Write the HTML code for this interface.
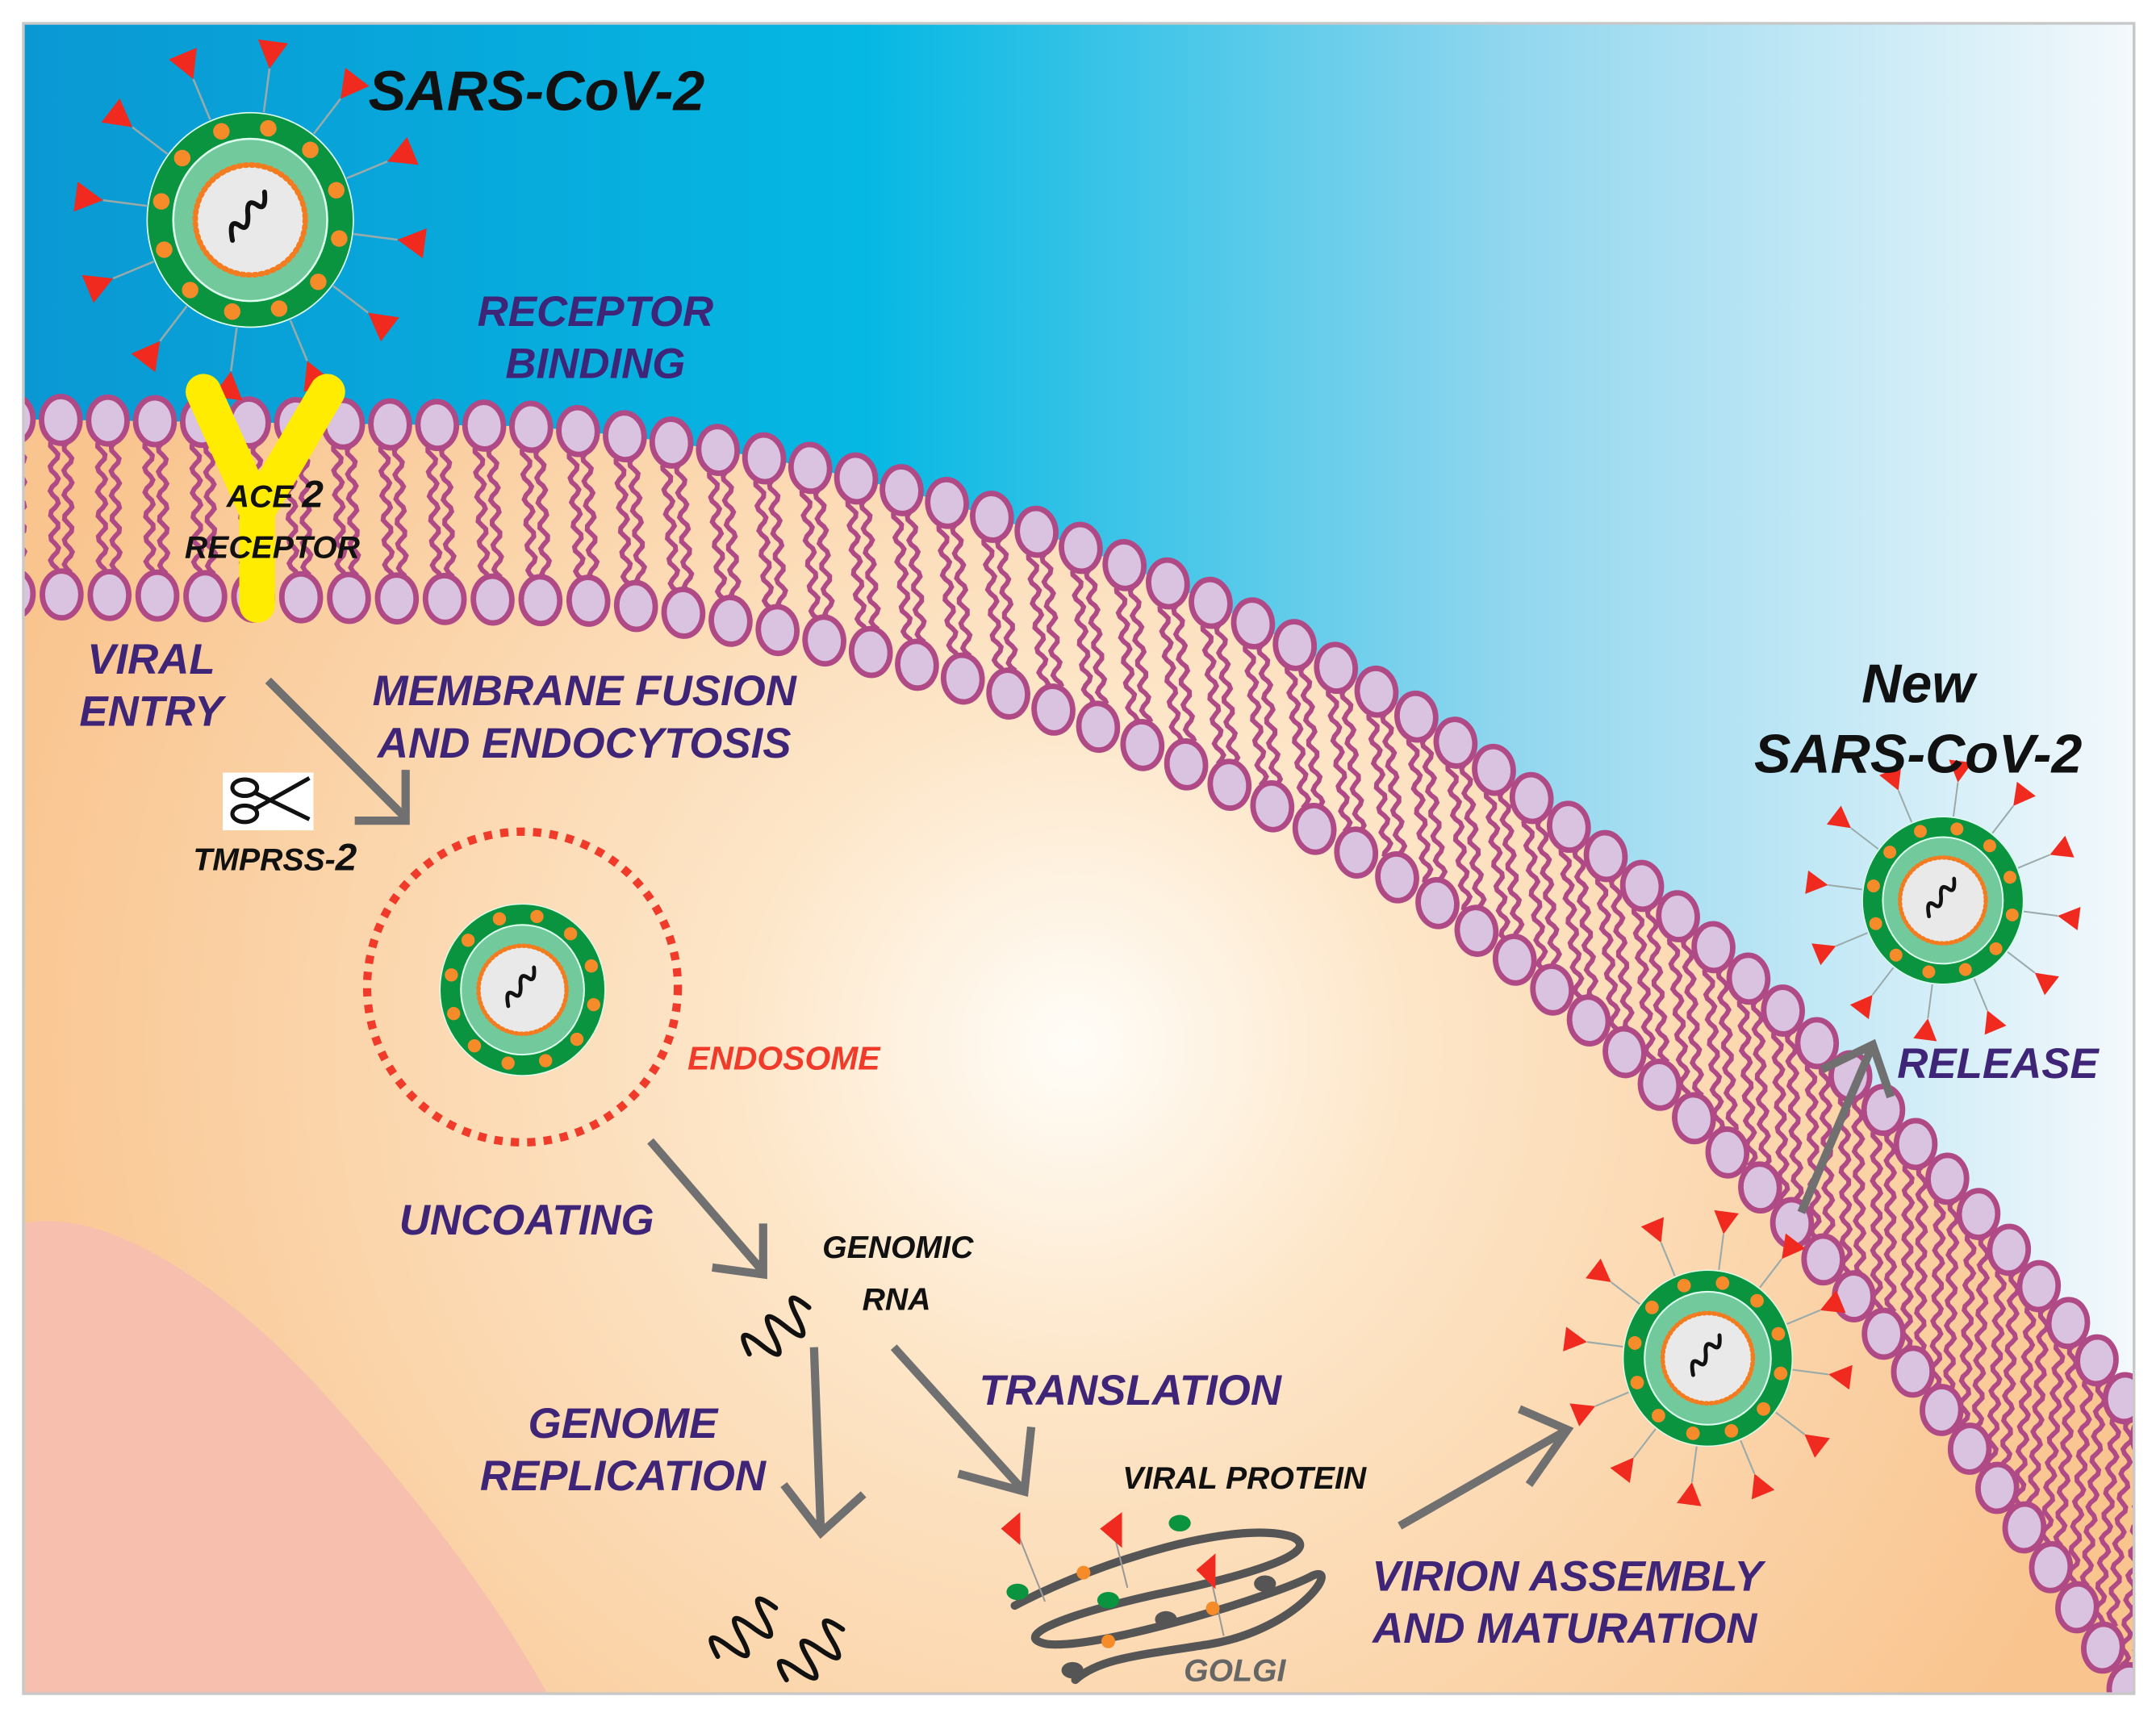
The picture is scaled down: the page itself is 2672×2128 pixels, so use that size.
<!DOCTYPE html>
<html><head><meta charset="utf-8">
<style>
html,body{margin:0;padding:0;background:#fff;}
svg{display:block;}
text{font-family:"Liberation Sans",sans-serif;font-weight:bold;font-style:italic;}
.p{fill:#3f2577;font-size:31px;}
.k{fill:#111;font-size:23px;}
</style></head>
<body>
<svg id="s" width="2672" height="2128" viewBox="0 0 1568 1249" preserveAspectRatio="none" xmlns="http://www.w3.org/2000/svg">
<defs>
<radialGradient id="cyto" cx="780" cy="760" r="820" gradientUnits="userSpaceOnUse">
<stop offset="0" stop-color="#fffdf8"/><stop offset="0.3" stop-color="#fde6c8"/><stop offset="1" stop-color="#f9c48e"/>
</radialGradient>
<linearGradient id="sky" x1="17" y1="0" x2="1552" y2="0" gradientUnits="userSpaceOnUse">
<stop offset="0" stop-color="#0a98d3"/><stop offset="0.4" stop-color="#05b8e3"/><stop offset="0.7" stop-color="#8fd6ee"/><stop offset="1" stop-color="#f4f9fc"/>
</linearGradient>
<clipPath id="fr"><rect x="17" y="17" width="1535" height="1215"/></clipPath>
<g id="virus">
<ellipse cx="0" cy="0" rx="75" ry="78" fill="#0a9440" stroke="#dfe" stroke-width="1"/>
<ellipse cx="0" cy="0" rx="56" ry="59" fill="#71c99c" stroke="#dfe" stroke-width="1.5"/>
<circle cx="0" cy="0" r="40" fill="#e9e9e9"/>
<circle cx="0" cy="0" r="40" fill="none" stroke="#f47c20" stroke-width="4" stroke-dasharray="1.5 3" stroke-linecap="round"/>
<g fill="#f68b2a" id="dots"></g>
<path d="M-18 8 q4 -16 9 -8 q4 8 9 -4 q4 -12 9 -4 q4 8 9 -6" fill="none" stroke="#111" stroke-width="3.5" stroke-linecap="round" transform="rotate(-25)"/>
</g>
<path id="sq" d="M0 0 q5 -26 11 0 q6 26 11 0 q5 -26 11 0 q6 26 11 0 q5 -26 11 0" fill="none" stroke="#111" stroke-width="3.5" stroke-linecap="round"/>
</defs>
<rect x="0" y="0" width="1568" height="1249" fill="#fff"/>
<g clip-path="url(#fr)">
<rect x="17" y="17" width="1535" height="1215" fill="url(#cyto)"/>
<path d="M17 890 C 70 878, 160 925, 250 1030 C 330 1120, 375 1190, 398 1232 L17 1232 Z" fill="#f6bfae"/>
<path id="skyp" d="M10 305 L380 310 C 650 330, 900 420, 1100 570 C 1300 720, 1450 880, 1565 1045 L1565 10 L10 10 Z" fill="url(#sky)"/>
<g id="mem"></g>
</g>
<rect x="17" y="17" width="1535" height="1215" fill="none" stroke="#c8c8c8" stroke-width="2"/>
<path id="O" d="M10 305 L380 310 C 650 330, 900 420, 1100 570 C 1300 720, 1450 880, 1565 1045" fill="none" stroke="none"/>
<path id="I" d="M10 432 L430 437 C 650 460, 870 540, 1050 660 C 1250 800, 1400 990, 1548 1228" fill="none" stroke="none"/>

<g transform="translate(182,160)"><use href="#virus"/><g id="sp1"></g></g>
<g transform="translate(380,720) scale(0.8)"><use href="#virus"/></g>
<circle cx="380" cy="718" r="113" fill="none" stroke="#f03a2a" stroke-width="6" stroke-dasharray="6 6"/>
<g transform="translate(1413,655) scale(0.78)"><use href="#virus"/><g id="sp2"></g></g>
<g transform="translate(1242,988) scale(0.82)"><use href="#virus"/><g id="sp3"></g></g>

<g stroke="#ffec00" stroke-width="26" stroke-linecap="round" fill="none">
<line x1="148" y1="285" x2="187" y2="372"/><line x1="238" y1="285" x2="187" y2="372"/><line x1="187" y1="372" x2="187" y2="440"/>
</g>

<g stroke="#707070" stroke-width="6" fill="none">
<path d="M195 495 L295 595 M258 597 L295 597 L295 560"/>
<path d="M473 830 L555 925 M518 922 L555 927 L555 890"/>
<path d="M592 980 L597 1115 M570 1080 L597 1115 L628 1087"/>
<path d="M650 980 L745 1085 M697 1072 L745 1085 L750 1038"/>
<path d="M1018 1110 L1140 1040 M1105 1025 L1140 1040 L1112 1080"/>
<path d="M1310 882 L1362 760 M1325 778 L1362 760 L1375 798"/>
</g>

<use href="#sq" transform="translate(545,985) rotate(-38)"/>
<use href="#sq" transform="translate(522,1205) rotate(-40)"/>
<use href="#sq" transform="translate(572,1222) rotate(-42)"/>

<g fill="none" stroke="#555" stroke-width="6" stroke-linecap="round">
<path d="M738 1168 C 800 1135, 900 1105, 940 1118 C 965 1130, 900 1148, 840 1160 C 760 1178, 738 1192, 762 1196 C 800 1200, 930 1160, 955 1146 C 975 1138, 945 1185, 880 1196 C 830 1204, 800 1206, 782 1222"/>
</g>
<g stroke="#999" stroke-width="1.2"><line x1="740" y1="1115" x2="760" y2="1165"/><line x1="810" y1="1115" x2="820" y2="1155"/><line x1="880" y1="1145" x2="890" y2="1190"/></g>
<g fill="#f02a1e"><polygon points="728,1112 742,1100 742,1124"/><polygon points="800,1112 816,1100 816,1126"/><polygon points="870,1142 884,1130 884,1156"/></g>
<g fill="#0a9440"><ellipse cx="740" cy="1158" rx="8" ry="6"/><ellipse cx="858" cy="1108" rx="8" ry="6"/><ellipse cx="806" cy="1164" rx="8" ry="6"/></g>
<g fill="#f68b2a"><circle cx="788" cy="1144" r="5"/><circle cx="882" cy="1170" r="5"/><circle cx="806" cy="1194" r="5"/></g>
<g fill="#555"><ellipse cx="920" cy="1152" rx="8" ry="6"/><ellipse cx="848" cy="1178" rx="8" ry="6"/><ellipse cx="780" cy="1215" rx="8" ry="6"/></g>

<rect x="162" y="562" width="66" height="42" fill="#fff"/>
<g fill="none" stroke="#111" stroke-width="3">
<ellipse cx="178" cy="573" rx="9" ry="6"/><ellipse cx="178" cy="592" rx="9" ry="6"/>
<path d="M186 577 L225 596 M186 588 L225 566"/>
</g>

<text x="268" y="80" font-size="41" fill="#111">SARS-CoV-2</text>
<text class="p" x="433" y="237" text-anchor="middle">RECEPTOR</text>
<text class="p" x="433" y="275" text-anchor="middle">BINDING</text>
<text class="k" x="200" y="369" text-anchor="middle">ACE <tspan font-size="28">2</tspan></text>
<text class="k" x="198" y="406" text-anchor="middle">RECEPTOR</text>
<text class="p" x="110" y="490" text-anchor="middle">VIRAL</text>
<text class="p" x="110" y="528" text-anchor="middle">ENTRY</text>
<text class="p" x="425" y="513" text-anchor="middle">MEMBRANE FUSION</text>
<text class="p" x="425" y="551" text-anchor="middle">AND ENDOCYTOSIS</text>
<text class="k" x="200" y="633" text-anchor="middle">TMPRSS-<tspan font-size="28">2</tspan></text>
<text x="570" y="778" text-anchor="middle" font-size="24" fill="#f03a2a">ENDOSOME</text>
<text class="p" x="383" y="898" text-anchor="middle">UNCOATING</text>
<text class="k" x="653" y="915" text-anchor="middle">GENOMIC</text>
<text class="k" x="652" y="953" text-anchor="middle">RNA</text>
<text class="p" x="822" y="1022" text-anchor="middle">TRANSLATION</text>
<text class="p" x="453" y="1046" text-anchor="middle">GENOME</text>
<text class="p" x="453" y="1084" text-anchor="middle">REPLICATION</text>
<text class="k" x="905" y="1083" text-anchor="middle">VIRAL PROTEIN</text>
<text x="898" y="1223" text-anchor="middle" font-size="23" fill="#666">GOLGI</text>
<text class="p" x="1140" y="1157" text-anchor="middle">VIRION ASSEMBLY</text>
<text class="p" x="1138" y="1195" text-anchor="middle">AND MATURATION</text>
<text x="1395" y="511" text-anchor="middle" font-size="40" fill="#111">New</text>
<text x="1395" y="562" text-anchor="middle" font-size="40" fill="#111">SARS-CoV-2</text>
<text class="p" x="1453" y="784" text-anchor="middle">RELEASE</text>
</svg>
<script>
(function(){
var NS="http://www.w3.org/2000/svg";
function el(n,a,p){var e=document.createElementNS(NS,n);for(var k in a)e.setAttribute(k,a[k]);p.appendChild(e);return e;}
var dots=document.getElementById('dots');
for(var i=0;i<12;i++){var a=i/12*2*Math.PI+0.2;el('circle',{cx:66*Math.cos(a),cy:68*Math.sin(a),r:6},dots);}
['sp1','sp2','sp3'].forEach(function(id){
 var g=document.getElementById(id);
 for(var i=0;i<12;i++){var a=i/12*2*Math.PI+0.13;var c=Math.cos(a),s=Math.sin(a);
  el('line',{x1:76*c,y1:79*s,x2:108*c,y2:111*s,stroke:'#9aa',"stroke-width":1.5},g);
  var tx=108*c,ty=111*s;var px=-s,py=c;
  el('polygon',{points:tx+','+ty+' '+(tx+20*c+11*px)+','+(ty+20*s+11*py)+' '+(tx+20*c-11*px)+','+(ty+20*s-11*py),fill:'#f02a1e'},g);
 }
});
var O=document.getElementById('O'),I=document.getElementById('I'),m=document.getElementById('mem');
var Lo=O.getTotalLength(),Li=I.getTotalLength();
var N=Math.round(Lo/34);
var tails=el('g',{fill:'none',stroke:'#b04a86','stroke-width':3.5},m);
var heads=el('g',{fill:'#d9c3e0',stroke:'#b04a86','stroke-width':4},m);
for(var i=0;i<=N;i++){
 var f=i/N;var po=O.getPointAtLength(f*Lo),pi=I.getPointAtLength(f*Li);
 var dx=pi.x-po.x,dy=pi.y-po.y,L=Math.sqrt(dx*dx+dy*dy);dx/=L;dy/=L;var nx=-dy,ny=dx;
 var ang=Math.atan2(dy,dx)*180/Math.PI-90;
 [-5,5].forEach(function(off){
  var d='';var st=16,en=L-16,n=Math.round((en-st)/3);
  for(var j=0;j<=n;j++){var t=st+(en-st)*j/n;var w=off+3*Math.sin(j*1.1+(off>0?1:0));
   var x=po.x+dx*t+nx*w,y=po.y+dy*t+ny*w;d+=(j?'L':'M')+x.toFixed(1)+' '+y.toFixed(1);}
  el('path',{d:d},tails);
 });
 el('ellipse',{cx:po.x,cy:po.y,rx:14,ry:17,transform:'rotate('+ang+' '+po.x+' '+po.y+')'},heads);
 el('ellipse',{cx:pi.x,cy:pi.y,rx:14,ry:17,transform:'rotate('+ang+' '+pi.x+' '+pi.y+')'},heads);
}
})();
</script>
</body></html>
